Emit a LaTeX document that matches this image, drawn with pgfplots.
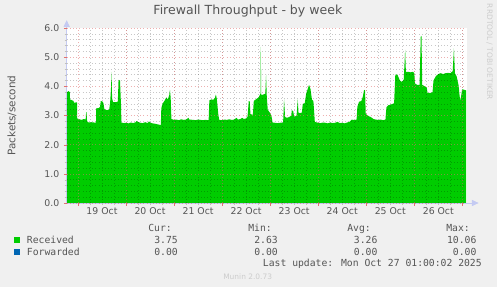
\documentclass[border=0pt]{standalone}
\usepackage{pgfplots}
\pgfplotsset{compat=1.18}
\usepackage{fontspec}
\setmainfont{DejaVu Sans}
\newfontfamily\monofont{DejaVu Sans Mono}
\usetikzlibrary{arrows.meta}
\definecolor{bg}{HTML}{F0F0F0}
\definecolor{recv}{HTML}{00CC00}
\definecolor{fwd}{HTML}{0066B3}
\definecolor{txt}{HTML}{555555}
\definecolor{axcol}{HTML}{C4CAF2}
\definecolor{faint}{HTML}{CCCCCC}
\definecolor{mgrid}{HTML}{E07070}
\begin{document}
\begin{tikzpicture}
\fill[bg] (0,0) rectangle (372.75pt,215.25pt);
\useasboundingbox (0,0) rectangle (372.75pt,215.25pt);
\begin{axis}[
 at={(50pt,63pt)}, anchor=south west,
 scale only axis, width=300pt, height=131.25pt,
 xmin=-0.235, xmax=8.09, ymin=0, ymax=6,
 axis background/.style={fill=white},
 axis on top, clip=false,
 axis line style={draw=none},
 xtick={0,...,8}, xticklabels={},
 minor xtick={0.25,0.5,...,7.75,8},
 ytick={0,...,6}, yticklabels={0.0,1.0,2.0,3.0,4.0,5.0,6.0},
 minor y tick num=4,
 extra x ticks={0.5,1.5,...,7.5},
 extra x tick labels={19 Oct,20 Oct,21 Oct,22 Oct,23 Oct,24 Oct,25 Oct,26 Oct},
 extra x tick style={grid=none, major tick length=0pt},
 grid=both,
 major grid style={dotted, mgrid, opacity=0.55, line width=0.5pt},
 minor grid style={dotted, black, opacity=0.22, line width=0.5pt},
 tick align=outside, xtick pos=bottom, ytick pos=left,
 major tick length=2pt, minor tick length=1.5pt,
 major tick style={mgrid}, minor tick style={gray!50},
 tick label style={font=\fontsize{7}{8}\selectfont, text=txt},
 xticklabel style={yshift=0pt},
 title={Firewall Throughput - by week},
 title style={at={(axis description cs:0.453,1.051)}, anchor=center, font=\fontsize{9.4}{11}\selectfont, text=txt},
 ylabel={Packets/second},
 ylabel style={at={(axis description cs:-0.137,0.5)}, anchor=center, font=\fontsize{7.8}{9}\selectfont, text=txt},
]
\addplot[draw=none, fill=recv] coordinates {
(-0.235,3.78) (-0.20,3.84) (-0.17,3.80) (-0.165,3.55) (-0.12,3.52) (-0.09,3.50) (-0.085,3.44) (-0.02,3.45)
(-0.015,2.90) (0.03,2.87) (0.08,2.85) (0.12,2.88) (0.16,2.86) (0.17,3.10) (0.18,3.12) (0.19,2.80)
(0.22,2.76) (0.28,2.77) (0.33,2.76) (0.375,2.76) (0.38,3.24) (0.44,3.26) (0.46,3.30) (0.475,3.50)
(0.51,3.48) (0.53,3.42) (0.55,3.22) (0.60,3.18) (0.65,3.20) (0.67,3.45) (0.69,4.00) (0.70,4.50)
(0.71,3.60) (0.73,3.46) (0.80,3.46) (0.83,3.48) (0.845,4.22) (0.875,4.20) (0.895,3.40) (0.905,2.76)
(0.95,2.74) (1.00,2.75) (1.05,2.73) (1.10,2.76) (1.15,2.74) (1.20,2.77) (1.22,2.81) (1.25,2.78)
(1.30,2.75) (1.35,2.74) (1.40,2.77) (1.45,2.74) (1.48,2.80) (1.50,2.76) (1.55,2.73) (1.60,2.72)
(1.65,2.70) (1.70,2.68) (1.725,2.67) (1.735,3.25) (1.76,3.40) (1.80,3.50) (1.84,3.62) (1.87,3.55)
(1.90,3.70) (1.915,3.88) (1.93,3.60) (1.945,2.88) (2.00,2.85) (2.05,2.86) (2.10,2.84) (2.15,2.87)
(2.20,2.85) (2.25,2.86) (2.30,2.92) (2.32,2.86) (2.40,2.85) (2.45,2.84) (2.50,2.86) (2.55,2.85)
(2.60,2.84) (2.65,2.85) (2.72,2.84) (2.735,3.52) (2.78,3.55) (2.82,3.54) (2.85,3.60) (2.87,3.72)
(2.89,3.58) (2.92,3.05) (2.94,2.85) (3.00,2.84) (3.05,2.86) (3.10,2.85) (3.15,2.87) (3.20,2.85)
(3.25,2.86) (3.30,2.92) (3.33,2.86) (3.38,2.88) (3.42,2.92) (3.45,2.88) (3.50,2.90) (3.53,2.96)
(3.555,3.50) (3.575,3.48) (3.59,3.05) (3.64,3.02) (3.66,3.50) (3.70,3.55) (3.76,3.62) (3.80,3.75)
(3.805,5.35) (3.815,3.70) (3.86,3.72) (3.90,3.75) (3.915,4.40) (3.93,3.65) (3.95,3.20) (4.00,3.08)
(4.03,2.96) (4.05,2.76) (4.10,2.75) (4.15,2.74) (4.20,2.75) (4.27,2.76) (4.29,3.55) (4.31,2.95)
(4.35,2.92) (4.40,2.95) (4.44,3.00) (4.45,3.18) (4.48,3.15) (4.50,2.95) (4.55,3.00) (4.575,3.55)
(4.59,3.10) (4.62,3.08) (4.66,3.10) (4.68,3.40) (4.72,3.42) (4.75,3.75) (4.78,3.90) (4.81,4.05)
(4.84,3.90) (4.87,3.55) (4.90,3.50) (4.93,2.78) (5.00,2.75) (5.05,2.74) (5.10,2.76) (5.15,2.75)
(5.20,2.73) (5.25,2.76) (5.30,2.74) (5.35,2.75) (5.40,2.78) (5.45,2.74) (5.50,2.75) (5.55,2.73)
(5.60,2.76) (5.65,2.78) (5.70,2.86) (5.75,2.84) (5.80,2.86) (5.815,3.30) (5.85,3.47) (5.90,3.50)
(5.93,3.65) (5.955,3.88) (5.975,3.86) (5.99,3.05) (6.05,2.98) (6.10,2.94) (6.15,2.88) (6.20,2.86)
(6.25,2.85) (6.30,2.86) (6.35,2.84) (6.40,2.86) (6.42,3.28) (6.46,3.35) (6.52,3.38) (6.58,3.42)
(6.605,4.40) (6.65,4.40) (6.70,4.20) (6.74,4.15) (6.78,4.22) (6.80,4.90) (6.81,5.25) (6.825,4.50)
(6.87,4.50) (6.92,4.48) (6.97,4.50) (7.00,4.45) (7.015,4.10) (7.06,4.05) (7.11,4.05) (7.135,5.72)
(7.15,5.72) (7.165,4.05) (7.22,4.00) (7.26,3.95) (7.275,3.78) (7.33,3.77) (7.38,3.80) (7.40,4.20)
(7.45,4.35) (7.50,4.42) (7.55,4.45) (7.60,4.42) (7.65,4.45) (7.70,4.46) (7.75,4.45) (7.80,4.52)
(7.825,5.30) (7.845,4.45) (7.88,4.35) (7.92,4.05) (7.955,3.50) (7.97,3.60) (7.995,3.90) (8.04,3.88)
(8.08,3.86)
} \closedcycle;
\addplot[fwd, line width=0.3pt] coordinates {(-0.235,0) (8.08,0)};
\draw[axcol, line width=0.6pt, -{Triangle[length=5pt,width=4.5pt]}] (rel axis cs:0,0) -- (rel axis cs:0,1.045);
\draw[axcol, line width=0.6pt, -{Triangle[length=5pt,width=4.5pt]}] (rel axis cs:0,0) -- (rel axis cs:1.03,0);
\end{axis}
\begin{scope}[x=0.75pt,y=-0.75pt,shift={(0pt,215.25pt)}]
\node[rotate=-90, anchor=center, text=faint, font=\fontsize{5.6}{6}\selectfont] at (489.5,52) {RRDTOOL / TOBI OETIKER};
\begin{scope}[every node/.style={inner sep=0pt, text=txt, font=\monofont\fontsize{7.3}{8.5}\selectfont}]
\node[anchor=base east] at (172,231.5) {Cur:};
\node[anchor=base east] at (272,231.5) {Min:};
\node[anchor=base east] at (371,231.5) {Avg:};
\node[anchor=base east] at (470,231.5) {Max:};
\node[anchor=base west] at (26.7,243.5) {Received};
\node[anchor=base east] at (178,243.5) {3.75};
\node[anchor=base east] at (278,243.5) {2.63};
\node[anchor=base east] at (377.7,243.5) {3.26};
\node[anchor=base east] at (476.7,243.5) {10.06};
\node[anchor=base west] at (26.7,255.3) {Forwarded};
\node[anchor=base east] at (178,255.3) {0.00};
\node[anchor=base east] at (278,255.3) {0.00};
\node[anchor=base east] at (377.7,255.3) {0.00};
\node[anchor=base east] at (476.7,255.3) {0.00};
\node[anchor=base east] at (482,266.8) {Last update: Mon Oct 27 01:00:02 2025};
\end{scope}
\node[fill=recv, inner sep=0pt, minimum size=4.4pt] at (17.2,240) {};
\node[fill=fwd, inner sep=0pt, minimum size=4.4pt] at (17.2,252.2) {};
\node[anchor=base, inner sep=0pt, text=faint, font=\fontsize{5.6}{6}\selectfont] at (247.7,279.3) {Munin 2.0.73};
\end{scope}
\end{tikzpicture}
\end{document}
